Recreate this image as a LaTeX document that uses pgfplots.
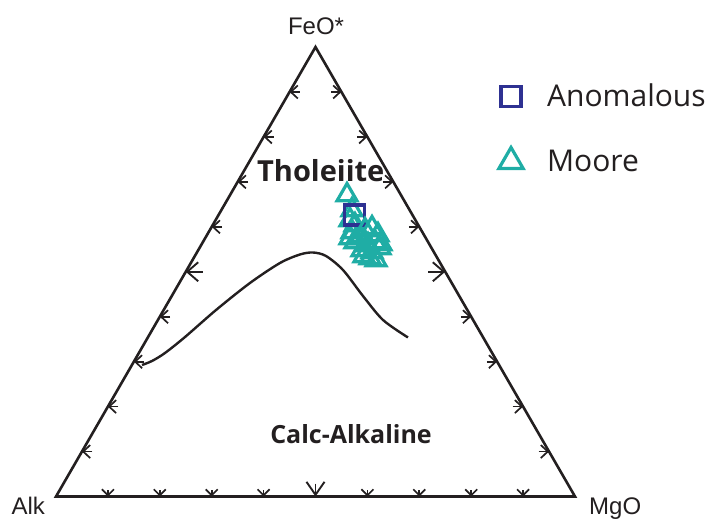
\documentclass[border=0pt]{standalone}
\usepackage{pgfplots}
\pgfplotsset{compat=1.18}
\usepackage{fontspec}
\setmainfont{Liberation Sans}
\newfontfamily\osans{Open Sans}
\usetikzlibrary{arrows.meta}
\definecolor{navy}{HTML}{2E3192}
\definecolor{tealc}{HTML}{1FADA5}
\definecolor{ink}{HTML}{231F20}
\begin{document}
\begin{tikzpicture}
\begin{axis}[width=713pt,height=518pt,scale only axis,
 xmin=-0.1079,xmax=1.2659,ymin=-0.0414,ymax=0.9566,
 hide axis, clip=false, reverse legend,
 legend style={at={(axis cs:0.8530,0.7948)},anchor=north west,draw=none,fill=none,inner sep=0pt,
   font=\osans\fontsize{30}{36}\selectfont, text=ink, row sep=39pt,
   nodes={inner sep=0pt},
   /tikz/every odd column/.append style={column sep=24pt}},
 legend cell align=left,
 legend image code/.code={\draw[mark repeat=2,mark phase=2,#1] plot coordinates {(0pt,0pt) (12pt,0pt) (24pt,0pt)};},
]
\path (rel axis cs:0,0) rectangle (rel axis cs:1,1);
% discriminant curve
\addplot[ink, line width=2.4pt, smooth, tension=0.5, forget plot] coordinates {
(0.1657,0.2534) (0.1850,0.2611) (0.2100,0.2765) (0.2486,0.3073) (0.3083,0.3593)
(0.3738,0.4114) (0.4316,0.4499) (0.4701,0.4663) (0.4952,0.4701) (0.5202,0.4634)
(0.5530,0.4364) (0.5915,0.3863) (0.6301,0.3401) (0.6782,0.3064)};
% triangle
\addplot[ink, line width=2.6pt, forget plot] coordinates {(0,0) (1,0) (0.5,0.8660)} --cycle;
% small ticks, bottom edge
\addplot[ink, line width=1.7pt, forget plot, quiver={u=\thisrow{u},v=\thisrow{v}},
  -{Straight Barb[length=6pt,width=12pt]}] table {
x y u v
0.1 0.0116 0 -0.0116
0.2 0.0116 0 -0.0116
0.3 0.0116 0 -0.0116
0.4 0.0116 0 -0.0116
0.6 0.0116 0 -0.0116
0.7 0.0116 0 -0.0116
0.8 0.0116 0 -0.0116
0.9 0.0116 0 -0.0116
};
% small ticks, side edges
\addplot[ink, line width=1.7pt, forget plot, quiver={u=\thisrow{u},v=\thisrow{v}},
  -{Straight Barb[length=7pt,width=13pt]}] table {
x y u v
0.070 0.0866 -0.020 0
0.120 0.1732 -0.020 0
0.170 0.2598 -0.020 0
0.220 0.3464 -0.020 0
0.320 0.5196 -0.020 0
0.370 0.6062 -0.020 0
0.420 0.6928 -0.020 0
0.470 0.7794 -0.020 0
0.930 0.0866 0.020 0
0.880 0.1732 0.020 0
0.830 0.2598 0.020 0
0.780 0.3464 0.020 0
0.680 0.5196 0.020 0
0.630 0.6062 0.020 0
0.580 0.6928 0.020 0
0.530 0.7794 0.020 0
};
% big ticks
\addplot[ink, line width=1.9pt, forget plot, quiver={u=\thisrow{u},v=\thisrow{v}},
  -{Straight Barb[length=13pt,width=18pt]}] table {
x y u v
0.5 0.025 0 -0.025
};
\addplot[ink, line width=1.9pt, forget plot, quiver={u=\thisrow{u},v=\thisrow{v}},
  -{Straight Barb[length=11pt,width=19pt]}] table {
x y u v
0.283 0.4330 -0.033 0
0.717 0.4330 0.033 0
};
% data: Moore (first part, under the square)
\addplot[only marks, mark=triangle, mark size=11.5pt, tealc, line width=3.2pt,
  legend image post style={mark size=14pt}] table {
x y
0.5607 0.5809
0.5703 0.5520
0.5665 0.5328
0.5761 0.5231
0.5703 0.5096
0.5819 0.5019
0.6204 0.5039
0.6146 0.4904
0.6012 0.4846
0.5761 0.4904
0.5665 0.4981
0.5896 0.4750
0.6089 0.4711
0.6243 0.4788
0.6262 0.4865
0.6050 0.4595
0.5934 0.4634
0.6166 0.4557
0.5857 0.4981
};
\addlegendentry{Moore}
% Anomalous
\addplot[only marks, mark=square, mark size=10pt, navy, line width=3.2pt] coordinates {(0.5751,0.5424)};
\addlegendentry{Anomalous}
% Moore (points drawn over the square)
\addplot[only marks, mark=triangle, mark size=11.5pt, tealc, line width=3.2pt, forget plot] table {
x y
0.5954 0.5135
0.6089 0.5173
};
% labels
\node[anchor=base, font=\fontsize{24}{28}\selectfont, text=ink] at (axis cs:0.5010,0.8892) {FeO*};
\node[anchor=base west, font=\fontsize{24}{28}\selectfont, text=ink, inner sep=0pt] at (axis cs:-0.0859,-0.0356) {Alk};
\node[anchor=base west, font=\fontsize{24}{28}\selectfont, text=ink, inner sep=0pt] at (axis cs:1.0270,-0.0356) {MgO};
\node[anchor=base, font=\osans\bfseries\fontsize{29}{34}\selectfont, text=ink] at (axis cs:0.5102,0.6066) {Tholeiite};
\node[anchor=base, font=\osans\bfseries\fontsize{25}{30}\selectfont, text=ink] at (axis cs:0.5684,0.1025) {Calc-Alkaline};
\end{axis}
\end{tikzpicture}
\end{document}
